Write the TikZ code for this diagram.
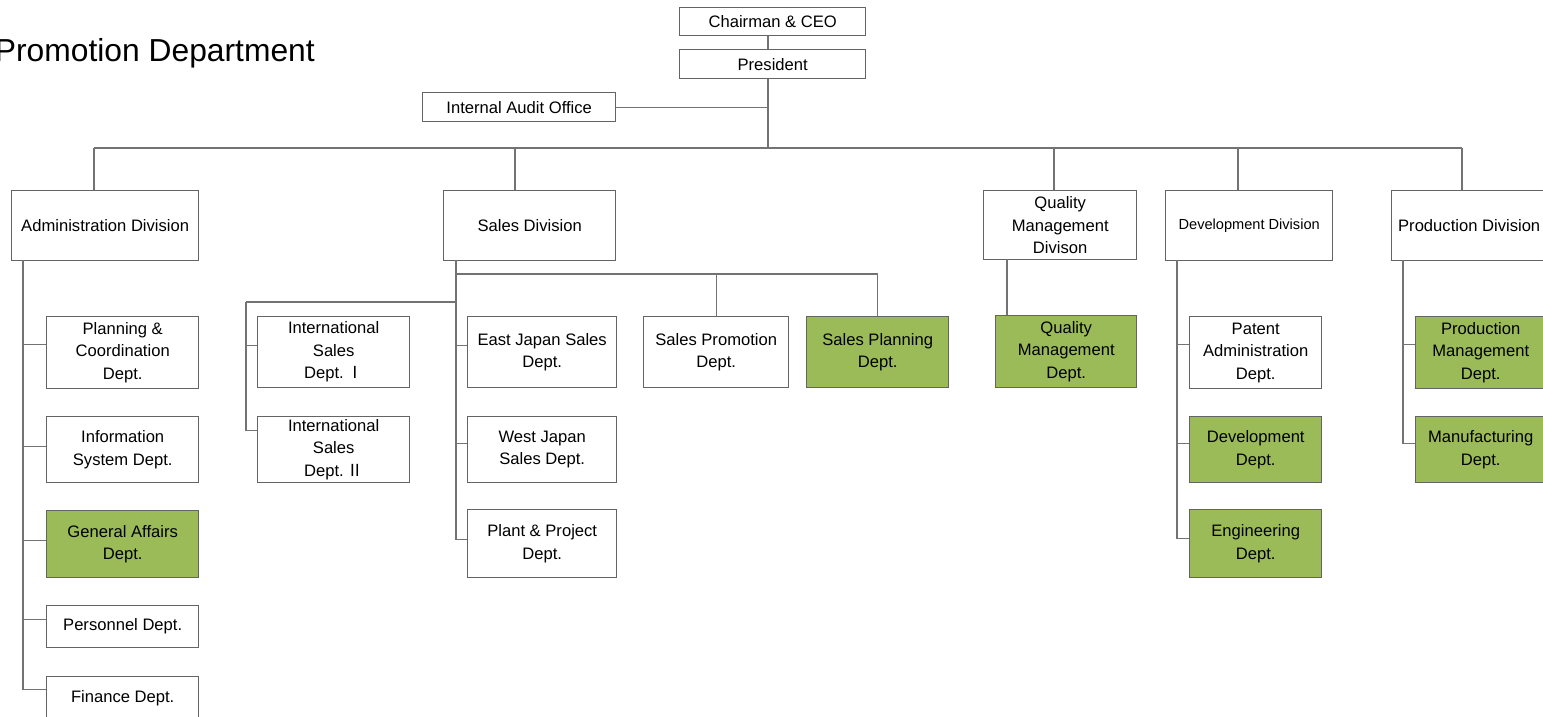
\documentclass[tikz,border=0pt]{standalone}
\usepackage{fontspec}
\setmainfont{Liberation Sans}
\newfontfamily\cjk{Noto Sans CJK JP}
\definecolor{lgreen}{RGB}{155,187,89}
\definecolor{lgray}{RGB}{115,115,115}
\definecolor{bgray}{RGB}{100,100,100}
\tikzset{
  box/.style={draw=bgray, line width=1.4pt, fill=white, rectangle, anchor=north west,
    align=center, inner sep=1pt, font=\fontsize{16.6}{22.5}\selectfont},
  gbox/.style={box, fill=lgreen},
  conn/.style={draw=lgray, line width=1.3pt},
}
\newcommand\bx[7]{\node[#1, minimum width=#5pt, minimum height=#6pt] (#2) at (#3,#4) {#7};}
\begin{document}
\begin{tikzpicture}[x=1pt,y=-1pt]
\useasboundingbox (0,0) rectangle (1543,717);
\node[anchor=base east, font=\fontsize{31.8}{32}\selectfont, inner sep=0pt] (title) at (315,62) {Promotion Department};
% top
\bx{box}{ceo}{679}{7}{186}{28}{Chairman \& CEO}
\bx{box}{pres}{679}{49}{186}{29}{President}
\bx{box}{audit}{422}{92}{193}{29}{Internal Audit Office}
% divisions
\bx{box}{admin}{11}{190}{187}{70}{Administration Division}
\bx{box}{sales}{443}{190}{172}{70}{Sales Division}
\bx{box}{qmdiv}{983}{190}{153}{69}{Quality\\Management\\Divison}
\bx{box, font=\fontsize{14.6}{20}\selectfont}{devdiv}{1165}{190}{167}{70}{Development Division}
\bx{box}{proddiv}{1391}{190}{155}{70}{Production Division}
% admin children
\bx{box}{plan}{46}{316}{152}{72}{Planning \&\\Coordination\\Dept.}
\bx{box}{info}{46}{416}{152}{66}{Information\\System Dept.}
\bx{gbox}{gen}{46}{510}{152}{67}{General Affairs\\Dept.}
\bx{box}{pers}{46}{605}{152}{42}{Personnel Dept.}
\bx{box}{fin}{46}{676}{152}{44}{Finance Dept.}
% sales children
\bx{box}{int1}{257}{316}{152}{71}{International\\Sales\\Dept.\,{\cjk Ⅰ}}
\bx{box}{int2}{257}{416}{152}{66}{International\\Sales\\Dept.\,{\cjk Ⅱ}}
\bx{box}{east}{467}{316}{149}{71}{East Japan Sales\\Dept.}
\bx{box}{west}{467}{416}{149}{66}{West Japan\\Sales Dept.}
\bx{box}{plant}{467}{509}{149}{68}{Plant \& Project\\Dept.}
\bx{box}{sprom}{643}{316}{145}{71}{Sales Promotion\\Dept.}
\bx{gbox}{splan}{806}{316}{142}{71}{Sales Planning\\Dept.}
% quality
\bx{gbox}{qmd}{995}{315}{141}{72}{Quality\\Management\\Dept.}
% development
\bx{box}{patent}{1189}{316}{132}{72}{Patent\\Administration\\Dept.}
\bx{gbox}{dev}{1189}{416}{132}{66}{Development\\Dept.}
\bx{gbox}{eng}{1189}{509}{132}{68}{Engineering\\Dept.}
% production
\bx{gbox}{pm}{1415}{316}{130}{72}{Production\\Management\\Dept.}
\bx{gbox}{manu}{1415}{416}{130}{66}{Manufacturing\\Dept.}
% connectors top
\coordinate (trunk) at (768,148);
\draw[conn] (ceo.south -| trunk) -- (pres.north -| trunk);
\draw[conn] (pres.south -| trunk) -- (trunk);
\draw[conn] (audit.east) -- (audit.east -| trunk);
\coordinate (d1) at (94,148);
\coordinate (d2) at (515,148);
\coordinate (d3) at (1054,148);
\coordinate (d4) at (1238,148);
\coordinate (d5) at (1462,148);
\draw[conn] (d1) -- (d5);
\draw[conn] (d1) -- (d1 |- admin.north);
\draw[conn] (d2) -- (d2 |- sales.north);
\draw[conn] (d3) -- (d3 |- qmdiv.north);
\draw[conn] (d4) -- (d4 |- devdiv.north);
\draw[conn] (d5) -- (d5 |- proddiv.north);
% admin
\coordinate (as) at (23,260);
\draw[conn] (as) |- ([yshift=8pt]plan.west);
\draw[conn] (as) |- ([yshift=3pt]info.west);
\draw[conn] (as) |- ([yshift=4pt]gen.west);
\draw[conn] (as) |- ([yshift=7pt]pers.west);
\draw[conn] (as) |- ([yshift=9pt]fin.west);
% sales
\coordinate (ss) at (456,260);
\draw[conn] (ss) |- ([yshift=6.5pt]east.west);
\draw[conn] (ss) |- ([yshift=6pt]west.west);
\draw[conn] (ss) |- ([yshift=4pt]plant.west);
\coordinate (sb) at (456,274);
\draw[conn] (sb) -| (sprom.north);
\draw[conn] (sb) -| (splan.north);
\coordinate (si) at (456,302);
\coordinate (ib) at (246,302);
\draw[conn] (si) -- (ib);
\draw[conn] (ib) |- ([yshift=6.5pt]int1.west);
\draw[conn] (ib) |- ([yshift=19pt]int2.west);
% quality
\coordinate (qs) at (1007,259);
\draw[conn] (qs) -- (qs |- qmd.north);
% development
\coordinate (ds) at (1177,260);
\draw[conn] (ds) |- ([yshift=8pt]patent.west);
\draw[conn] (ds) |- ([yshift=6pt]dev.west);
\draw[conn] (ds) |- ([yshift=5pt]eng.west);
% production
\coordinate (ps) at (1403,260);
\draw[conn] (ps) |- ([yshift=8pt]pm.west);
\draw[conn] (ps) |- ([yshift=6pt]manu.west);
\end{tikzpicture}
\end{document}
